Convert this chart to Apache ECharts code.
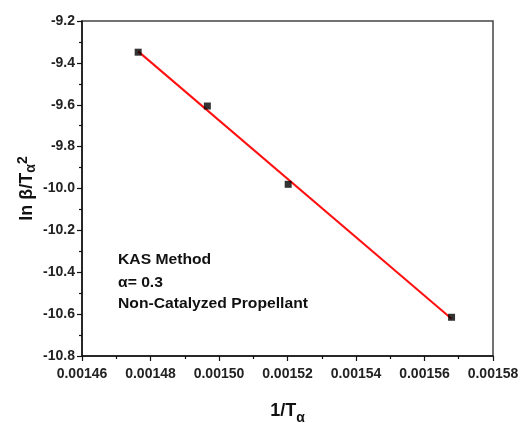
<!DOCTYPE html>
<html>
<head>
<meta charset="utf-8">
<script src="https://cdn.jsdelivr.net/npm/echarts@6/dist/echarts.min.js"></script>
<style>
  html, body { margin: 0; padding: 0; background: #fff; }
  #chart { width: 523px; height: 423px; }
</style>
</head>
<body>
<div id="chart"></div>
<script>
// KAS plot: ln(beta/T^2) against 1/T at conversion alpha = 0.3
const inverseT = [0.0014764, 0.0014966, 0.0015202, 0.0015679];
const lnBetaOverT2 = [-9.349, -9.606, -9.980, -10.615];
const xTicks = { min: 0.00146, max: 0.00158, step: 0.00002 };
const yTicks = { min: -10.8, max: -9.2, step: 0.2 };
const noteLines = ['KAS Method', 'α= 0.3', 'Non-Catalyzed Propellant'];

// least-squares line through the measured points
function linearFit(xs, ys) {
  const n = xs.length;
  const mx = xs.reduce((a, b) => a + b, 0) / n;
  const my = ys.reduce((a, b) => a + b, 0) / n;
  let sxy = 0, sxx = 0;
  for (let i = 0; i < n; i++) {
    sxy += (xs[i] - mx) * (ys[i] - my);
    sxx += (xs[i] - mx) * (xs[i] - mx);
  }
  const k = sxy / sxx;
  return { k: k, b: my - k * mx };
}
const fit = linearFit(inverseT, lnBetaOverT2);
const xLo = Math.min.apply(null, inverseT);
const xHi = Math.max.apply(null, inverseT);
const fitLine = [[xLo, fit.k * xLo + fit.b], [xHi, fit.k * xHi + fit.b]];
const points = inverseT.map((x, i) => [x, lnBetaOverT2[i]]);

const font = 'Liberation Sans, Arial, sans-serif';
const ink = '#111';
const chart = echarts.init(document.getElementById('chart'));
chart.setOption({
  animation: false,
  backgroundColor: '#fff',
  grid: {
    left: 82, right: 30, top: 21, bottom: 67,
    containLabel: false,
    outerBoundsMode: 'none',
    show: true, borderColor: '#444', borderWidth: 1.5
  },
  xAxis: {
    type: 'value',
    min: xTicks.min, max: xTicks.max, interval: xTicks.step,
    name: '{m|1/T}{s|α}',
    nameLocation: 'middle',
    nameGap: 44,
    nameMoveOverlap: false,
    nameTextStyle: {
      rich: {
        m: { fontFamily: font, fontWeight: 'bold', fontSize: 18, color: ink, lineHeight: 22, verticalAlign: 'middle' },
        s: { fontFamily: font, fontWeight: 'bold', fontSize: 14, color: ink, lineHeight: 22, verticalAlign: 'bottom', padding: [0, 0, -3, 0] }
      }
    },
    axisLine: { show: true, lineStyle: { color: ink, width: 1.5 } },
    axisTick: { show: true, inside: false, length: 5, lineStyle: { color: ink, width: 1.2 } },
    minorTick: { show: true, splitNumber: 2, length: 3, lineStyle: { color: ink, width: 1.2 } },
    splitLine: { show: false },
    axisLabel: {
      margin: 11, fontFamily: font, fontWeight: 'bold', fontSize: 14, color: '#222',
      formatter: v => v.toFixed(5)
    }
  },
  yAxis: {
    type: 'value',
    min: yTicks.min, max: yTicks.max, interval: yTicks.step,
    name: '{m|ln β/T}{s|α}{p|2}',
    nameLocation: 'middle',
    nameRotate: 90,
    nameGap: 44,
    nameMoveOverlap: false,
    nameTextStyle: {
      rich: {
        m: { fontFamily: font, fontWeight: 'bold', fontSize: 18, color: ink, lineHeight: 22, verticalAlign: 'middle' },
        s: { fontFamily: font, fontWeight: 'bold', fontSize: 14, color: ink, lineHeight: 22, verticalAlign: 'bottom' },
        p: { fontFamily: font, fontWeight: 'bold', fontSize: 14, color: ink, lineHeight: 22, verticalAlign: 'top' }
      }
    },
    axisLine: { show: true, lineStyle: { color: ink, width: 1.5 } },
    axisTick: { show: true, inside: false, length: 5, lineStyle: { color: ink, width: 1.2 } },
    minorTick: { show: true, splitNumber: 2, length: 3, lineStyle: { color: ink, width: 1.2 } },
    splitLine: { show: false },
    axisLabel: {
      margin: 7, fontFamily: font, fontWeight: 'bold', fontSize: 14, color: '#222',
      formatter: v => v.toFixed(1)
    }
  },
  graphic: noteLines.map((t, i) => ({
    type: 'text',
    x: 118,
    y: [260, 283, 304][i],
    scaleX: 1.12,
    style: {
      text: t, fontFamily: font, fontWeight: 'bold', fontSize: 14, fill: ink,
      verticalAlign: 'middle', align: 'left'
    }
  })),
  series: [
    {
      type: 'line',
      data: fitLine,
      showSymbol: false,
      lineStyle: { color: '#ff1010', width: 2 },
      z: 2
    },
    {
      type: 'scatter',
      data: points,
      symbol: 'rect',
      symbolSize: 7,
      itemStyle: { color: '#000' },
      z: 3
    }
  ]
});
</script>
</body>
</html>
